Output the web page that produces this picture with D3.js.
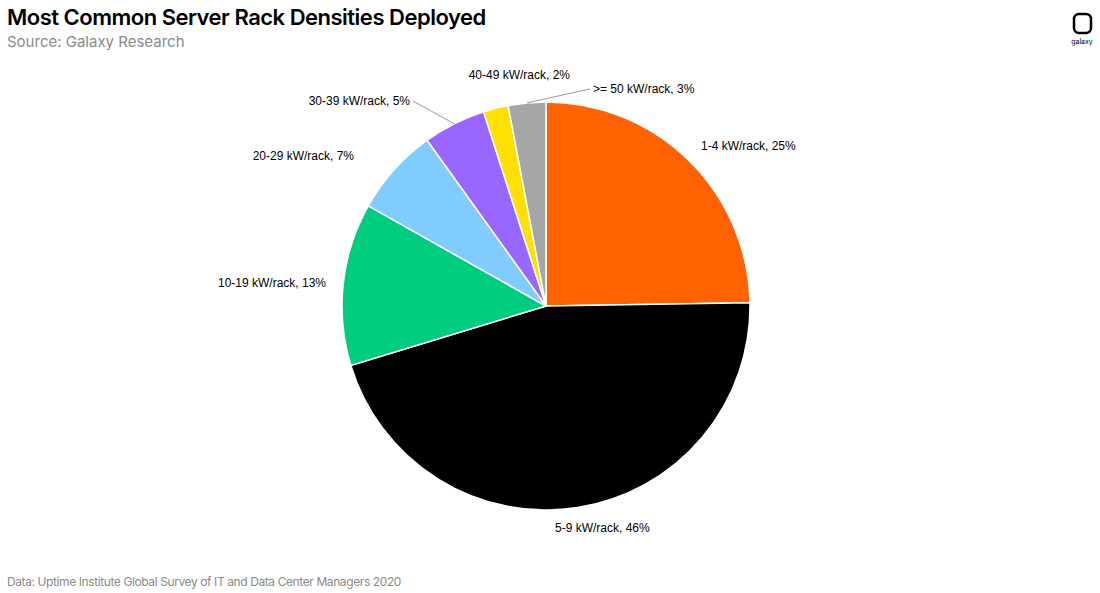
<!DOCTYPE html>
<html><head><meta charset="utf-8">
<script src="https://cdn.jsdelivr.net/npm/d3@7"></script>
<style>body{margin:0;background:#fff;font-family:Inter,Roboto,sans-serif}</style>
</head><body><svg id="c" width="1100" height="593"></svg>
<script>
const categories = ['1-4 kW/rack', '5-9 kW/rack', '10-19 kW/rack', '20-29 kW/rack', '30-39 kW/rack', '40-49 kW/rack', '>= 50 kW/rack']
const values = [25, 46, 13, 7, 5, 2, 3]
const colors = ['#ff6200', '#000000', '#00cc7f', '#80ccff', '#9966ff', '#ffe000', '#a6a6a6']
// label anchor points (layout only)
const labelPos = [[701, 150, 'start'], [555, 532, 'start'], [326, 287, 'end'], [354, 160, 'end'], [410, 105, 'end'], [570, 79, 'end'], [593, 93, 'start']]
const leader = [false, false, false, false, true, false, true]

const svg = d3.select('#c')
const cx = 546, cy = 306, r = 204
svg.append('text').attr('x', 7).attr('y', 25).attr('font-size', 22).attr('font-weight', 600).attr('letter-spacing', -0.5).text('Most Common Server Rack Densities Deployed')
svg.append('text').attr('x', 7).attr('y', 47).attr('font-size', 15).attr('fill', '#8a8a8a').text('Source: Galaxy Research')
svg.append('text').attr('x', 7).attr('y', 586).attr('font-size', 12).attr('fill', '#8a8a8a').attr('letter-spacing', -0.4).text('Data: Uptime Institute Global Survey of IT and Data Center Managers 2020')
const logo = svg.append('g')
logo.append('rect').attr('x', 1074).attr('y', 14).attr('width', 17).attr('height', 19).attr('rx', 5).attr('fill', 'none').attr('stroke', '#000').attr('stroke-width', 2.5)
logo.append('text').attr('x', 1082).attr('y', 44).attr('font-size', 7).attr('text-anchor', 'middle').text('galaxy')

const pie = d3.pie().sort(null).value(d => d)
const arcs = pie(values)
const arc = d3.arc().innerRadius(0).outerRadius(r)
const g = svg.append('g').attr('transform', `translate(${cx},${cy})`)
g.selectAll('path').data(arcs).enter().append('path')
	.attr('d', arc).attr('fill', (d, i) => colors[i]).attr('stroke', '#fff').attr('stroke-width', 1.5)

arcs.forEach((d, i) => {
	const [lx, ly, anchor] = labelPos[i]
	svg.append('text').attr('x', lx).attr('y', ly).attr('text-anchor', anchor)
		.attr('font-size', 12).attr('font-family', 'Arial, Liberation Sans, sans-serif')
		.text(`${categories[i]}, ${values[i]}%`)
	if (leader[i]) {
		const a = (d.startAngle + d.endAngle) / 2
		const sx = cx + Math.sin(a) * r, sy = cy - Math.cos(a) * r
		const ex = anchor === 'end' ? lx + 3 : lx - 3
		svg.append('line').attr('x1', sx).attr('y1', sy).attr('x2', ex).attr('y2', ly - 4)
			.attr('stroke', '#999').attr('stroke-width', 1)
	}
})
</script></body></html>
